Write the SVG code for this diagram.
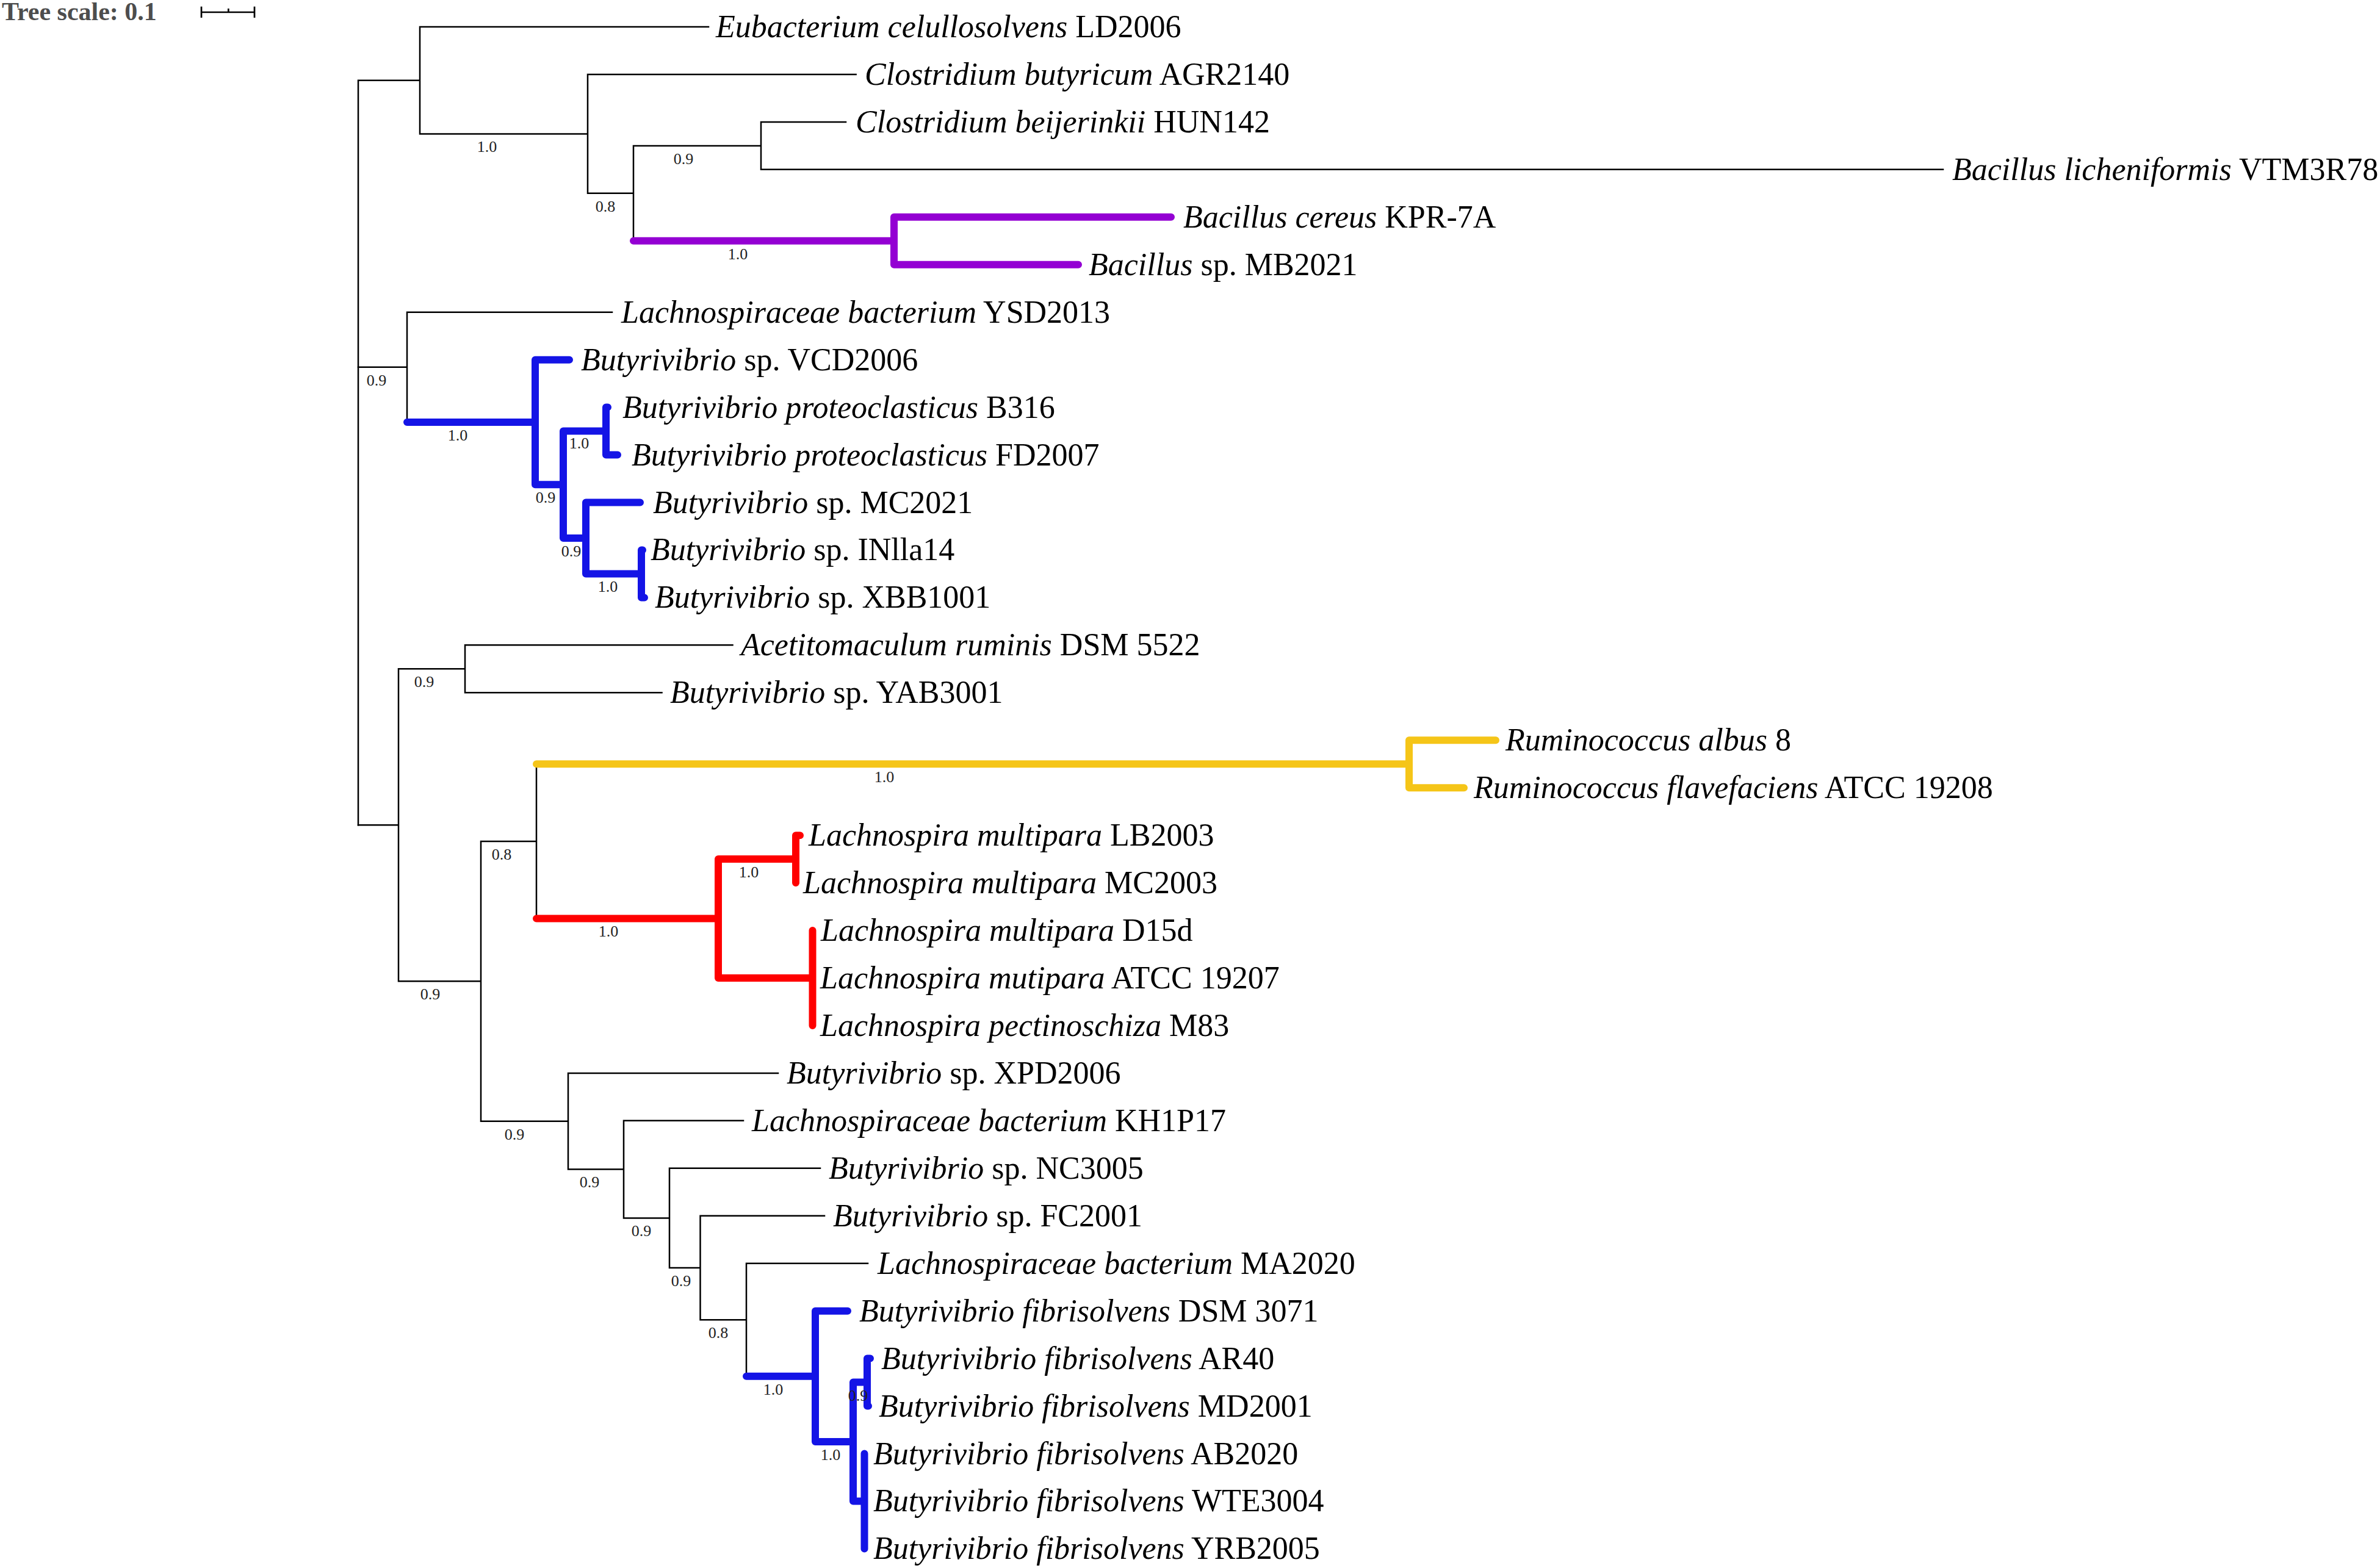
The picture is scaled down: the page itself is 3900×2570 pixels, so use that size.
<svg xmlns="http://www.w3.org/2000/svg" width="3900" height="2570" viewBox="0 0 3900 2570">
<style>
.bg{fill:#fff}
.br{fill:none;stroke:#000;stroke-width:2.5;stroke-linecap:square}
.th{fill:none;stroke-width:12;stroke-linecap:round;stroke-linejoin:round}
.pu{stroke:#9400D3}
.bl{stroke:#1414E6}
.ye{stroke:#F5C518}
.rd{stroke:#FF0000}
.lf{font-family:"Liberation Serif","Times New Roman",serif;font-size:52px;fill:#000}
.i{font-style:italic}
.sp{font-family:"Liberation Serif","Times New Roman",serif;font-size:26px;fill:#222;text-anchor:middle}
.ts{font-family:"Liberation Serif","Times New Roman",serif;font-size:42px;font-weight:bold;fill:#4d4d4d}
.sb{fill:none;stroke:#000;stroke-width:2.7}
</style>
<rect class="bg" x="0" y="0" width="3900" height="2570"/>
<g id="tree-scale">
<text class="ts" x="3" y="33">Tree scale: 0.1</text>
<path class="sb" d="M330 20H417M330 10.7V29M417 10.7V29M374.3 14V20"/>
</g>
<g id="connectors">
<path class="br" d="M587 131.7V1352.3M587 131.7H688M688 44V219.4M688 44H1161M688 219.4H963M963 121.95V316.8M963 121.95H1402.6M963 316.8H1038M1038 238.9V394.8M1038 238.9H1247M1247 199.9V277.85M1247 199.9H1386M1247 277.85H3184"/>
<path class="br" d="M587 601.85H667M667 511.7V692M667 511.7H1003"/>
<path class="br" d="M587 1352.3H653M653 1096.3V1608.3M653 1096.3H762M762 1057.35V1135.3M762 1057.35H1200.5M762 1135.3H1084.5M653 1608.3H788M788 1378.9V1837.8M788 1378.9H879M879 1252.2V1505.6M788 1837.8H931M931 1758.9V1916.6M931 1758.9H1275M931 1916.6H1022M1022 1836.85V1996.4M1022 1836.85H1218M1022 1996.4H1097M1097 1914.8V2078M1097 1914.8H1344M1097 2078H1147.5M1147.5 1992.75V2163.3M1147.5 1992.75H1351M1147.5 2163.3H1223M1223 2070.7V2255.8M1223 2070.7H1422"/>
<path class="th pu" d="M1038 394.8H1465M1465 355.8V433.75M1465 355.8H1919M1465 433.75H1767"/>
<path class="th bl" d="M667 692H877M877 589.65V794.3M877 589.65H933M877 794.3H923M923 706.6V881.95M923 706.6H993M993 667.6V745.55M993 667.6H996M993 745.55H1012M923 881.95H960M960 823.5V940.4M960 823.5H1049M960 940.4H1051M1051 901.45V979.4M1051 901.45H1053M1051 979.4H1056"/>
<path class="th ye" d="M879 1252.2H2309M2309 1213.25V1291.2M2309 1213.25H2451M2309 1291.2H2399"/>
<path class="th rd" d="M879 1505.6H1177M1177 1408.1V1603M1177 1408.1H1304M1304 1369.15V1447.1M1304 1369.15H1311M1177 1603H1331.5M1331.5 1525.05V1680.95"/>
<path class="th bl" d="M1223 2255.8H1336M1336 2148.65V2363M1336 2148.65H1389M1336 2363H1398M1398 2265.6V2460.45M1398 2265.6H1421M1421 2226.6V2304.55M1421 2226.6H1426M1421 2304.55H1423M1398 2460.45H1416.5M1416.5 2382.5V2538.4"/>
</g>
<g id="support-values">
<text class="sp" x="798" y="249">1.0</text>
<text class="sp" x="992" y="347">0.8</text>
<text class="sp" x="1120" y="269">0.9</text>
<text class="sp" x="1209" y="425">1.0</text>
<text class="sp" x="617" y="632">0.9</text>
<text class="sp" x="750" y="722">1.0</text>
<text class="sp" x="894" y="824">0.9</text>
<text class="sp" x="949" y="735">1.0</text>
<text class="sp" x="936" y="912">0.9</text>
<text class="sp" x="996" y="970">1.0</text>
<text class="sp" x="695" y="1126">0.9</text>
<text class="sp" x="705" y="1638">0.9</text>
<text class="sp" x="822" y="1409">0.8</text>
<text class="sp" x="1449" y="1282">1.0</text>
<text class="sp" x="997" y="1535">1.0</text>
<text class="sp" x="1227" y="1438">1.0</text>
<text class="sp" x="843" y="1868">0.9</text>
<text class="sp" x="966" y="1946">0.9</text>
<text class="sp" x="1051" y="2026">0.9</text>
<text class="sp" x="1116" y="2108">0.9</text>
<text class="sp" x="1177" y="2193">0.8</text>
<text class="sp" x="1267" y="2286">1.0</text>
<text class="sp" x="1361" y="2393">1.0</text>
<text class="sp" x="1406" y="2296">0.9</text>
</g>
<g id="leaf-00"><text class="lf" x="1173" y="61"><tspan class="i">Eubacterium celullosolvens</tspan> LD2006</text></g>
<g id="leaf-01"><text class="lf" x="1417" y="139"><tspan class="i">Clostridium butyricum</tspan> AGR2140</text></g>
<g id="leaf-02"><text class="lf" x="1402" y="217"><tspan class="i">Clostridium beijerinkii</tspan> HUN142</text></g>
<g id="leaf-03"><text class="lf" x="3199" y="295"><tspan class="i">Bacillus licheniformis</tspan> VTM3R78</text></g>
<g id="leaf-04"><text class="lf" x="1939" y="373"><tspan class="i">Bacillus cereus</tspan> KPR-7A</text></g>
<g id="leaf-05"><text class="lf" x="1784" y="451"><tspan class="i">Bacillus</tspan> sp. MB2021</text></g>
<g id="leaf-06"><text class="lf" x="1018" y="529"><tspan class="i">Lachnospiraceae bacterium</tspan> YSD2013</text></g>
<g id="leaf-07"><text class="lf" x="952" y="607"><tspan class="i">Butyrivibrio</tspan> sp. VCD2006</text></g>
<g id="leaf-08"><text class="lf" x="1020" y="685"><tspan class="i">Butyrivibrio proteoclasticus</tspan> B316</text></g>
<g id="leaf-09"><text class="lf" x="1035" y="763"><tspan class="i">Butyrivibrio proteoclasticus</tspan> FD2007</text></g>
<g id="leaf-10"><text class="lf" x="1070" y="841"><tspan class="i">Butyrivibrio</tspan> sp. MC2021</text></g>
<g id="leaf-11"><text class="lf" x="1066" y="918"><tspan class="i">Butyrivibrio</tspan> sp. INlla14</text></g>
<g id="leaf-12"><text class="lf" x="1073" y="996"><tspan class="i">Butyrivibrio</tspan> sp. XBB1001</text></g>
<g id="leaf-13"><text class="lf" x="1214" y="1074"><tspan class="i">Acetitomaculum ruminis</tspan> DSM 5522</text></g>
<g id="leaf-14"><text class="lf" x="1098" y="1152"><tspan class="i">Butyrivibrio</tspan> sp. YAB3001</text></g>
<g id="leaf-15"><text class="lf" x="2467" y="1230"><tspan class="i">Ruminococcus albus</tspan> 8</text></g>
<g id="leaf-16"><text class="lf" x="2415" y="1308"><tspan class="i">Ruminococcus flavefaciens</tspan> ATCC 19208</text></g>
<g id="leaf-17"><text class="lf" x="1325" y="1386"><tspan class="i">Lachnospira multipara</tspan> LB2003</text></g>
<g id="leaf-18"><text class="lf" x="1316" y="1464"><tspan class="i">Lachnospira multipara</tspan> MC2003</text></g>
<g id="leaf-19"><text class="lf" x="1345" y="1542"><tspan class="i">Lachnospira multipara</tspan> D15d</text></g>
<g id="leaf-20"><text class="lf" x="1344" y="1620"><tspan class="i">Lachnospira mutipara</tspan> ATCC 19207</text></g>
<g id="leaf-21"><text class="lf" x="1344" y="1698"><tspan class="i">Lachnospira pectinoschiza</tspan> M83</text></g>
<g id="leaf-22"><text class="lf" x="1289" y="1776"><tspan class="i">Butyrivibrio</tspan> sp. XPD2006</text></g>
<g id="leaf-23"><text class="lf" x="1232" y="1854"><tspan class="i">Lachnospiraceae bacterium</tspan> KH1P17</text></g>
<g id="leaf-24"><text class="lf" x="1358" y="1932"><tspan class="i">Butyrivibrio</tspan> sp. NC3005</text></g>
<g id="leaf-25"><text class="lf" x="1365" y="2010"><tspan class="i">Butyrivibrio</tspan> sp. FC2001</text></g>
<g id="leaf-26"><text class="lf" x="1438" y="2088"><tspan class="i">Lachnospiraceae bacterium</tspan> MA2020</text></g>
<g id="leaf-27"><text class="lf" x="1408" y="2166"><tspan class="i">Butyrivibrio fibrisolvens</tspan> DSM 3071</text></g>
<g id="leaf-28"><text class="lf" x="1444" y="2244"><tspan class="i">Butyrivibrio fibrisolvens</tspan> AR40</text></g>
<g id="leaf-29"><text class="lf" x="1440" y="2322"><tspan class="i">Butyrivibrio fibrisolvens</tspan> MD2001</text></g>
<g id="leaf-30"><text class="lf" x="1431" y="2400"><tspan class="i">Butyrivibrio fibrisolvens</tspan> AB2020</text></g>
<g id="leaf-31"><text class="lf" x="1431" y="2477"><tspan class="i">Butyrivibrio fibrisolvens</tspan> WTE3004</text></g>
<g id="leaf-32"><text class="lf" x="1431" y="2555"><tspan class="i">Butyrivibrio fibrisolvens</tspan> YRB2005</text></g>
</svg>
